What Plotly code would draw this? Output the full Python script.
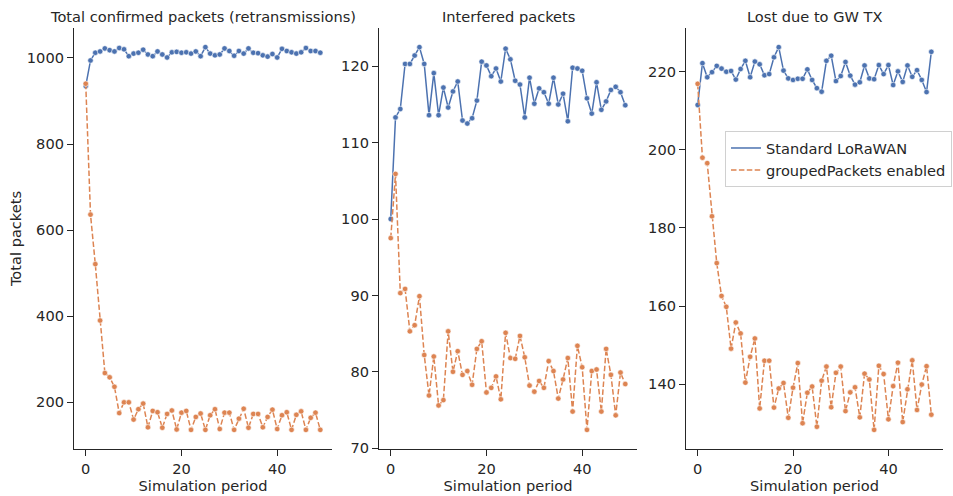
import plotly.graph_objects as go

periods = list(range(50))

total_std = [935, 994, 1012, 1015, 1022, 1018, 1015, 1023, 1020, 1004,
             1010, 1012, 1019, 1008, 1004, 1015, 1008, 1001, 1013, 1014,
             1012, 1013, 1010, 1015, 1004, 1025, 1010, 1006, 1008, 1022,
             1016, 1005, 1016, 1010, 1022, 1012, 1011, 1006, 1003, 1009,
             1001, 1021, 1016, 1013, 1010, 1013, 1023, 1016, 1016, 1012]
total_grp = [940, 636, 521, 390, 268, 258, 236, 175, 200, 200,
             160, 184, 197, 142, 180, 177, 141, 173, 181, 137,
             176, 180, 136, 166, 174, 136, 170, 184, 138, 176,
             176, 136, 162, 185, 141, 173, 173, 142, 166, 183,
             138, 170, 177, 136, 171, 179, 136, 164, 176, 136]

interf_std = [100.0, 113.3, 114.4, 120.3, 120.3, 121.4, 122.5, 120.3, 113.6, 119.1,
              113.6, 117.2, 114.6, 116.7, 118.0, 112.9, 112.5, 113.2, 115.5, 120.6,
              120.1, 118.7, 119.7, 118.0, 122.3, 120.9, 118.1, 117.6, 113.3, 118.5,
              115.1, 117.1, 116.6, 115.1, 118.5, 115.0, 116.4, 112.8, 119.8, 119.7,
              119.4, 115.8, 113.8, 117.9, 114.3, 115.4, 116.9, 117.3, 116.6, 114.9]
interf_grp = [97.5, 105.9, 90.3, 90.85, 85.3, 86.1, 89.9, 82.2, 76.9, 82.0,
              75.6, 76.3, 85.3, 80.0, 82.7, 79.6, 80.1, 78.3, 83.0, 84.0,
              77.3, 77.9, 79.4, 76.4, 85.1, 81.8, 81.7, 84.7, 81.9, 78.2,
              77.4, 78.8, 77.9, 81.4, 80.1, 76.5, 79.0, 81.8, 74.8, 83.4,
              80.6, 72.4, 80.1, 80.3, 74.8, 83.0, 79.6, 74.3, 79.9, 78.4]

lost_std = [211.5, 222.2, 218.6, 219.9, 221.5, 220.8, 220.0, 220.2, 218.0, 220.7,
            222.8, 218.6, 222.6, 221.9, 219.1, 219.4, 223.7, 226.3, 220.3, 218.3,
            217.9, 218.2, 218.2, 220.6, 217.9, 215.8, 214.9, 222.8, 224.1, 217.6,
            218.9, 222.5, 219.0, 216.7, 217.3, 221.6, 218.3, 218.1, 221.7, 219.4,
            221.7, 216.6, 220.1, 217.4, 221.6, 218.7, 220.4, 217.9, 214.8, 225.1]
lost_grp = [216.9, 198.0, 196.6, 183.0, 171.0, 162.6, 159.8, 149.1, 155.8, 153.0,
            140.4, 147.0, 151.7, 133.8, 146.0, 146.0, 134.0, 138.9, 140.3, 131.4,
            139.1, 145.4, 130.0, 137.8, 139.4, 129.1, 140.9, 144.5, 134.1, 142.9,
            144.5, 133.1, 137.9, 139.2, 131.5, 142.7, 141.2, 128.3, 144.7, 142.6,
            131.0, 139.5, 145.5, 130.3, 138.7, 146.1, 133.4, 139.9, 144.6, 132.2]

titles = ["Total confirmed packets (retransmissions)", "Interfered packets", "Lost due to GW TX"]
series_names = ["Standard LoRaWAN", "groupedPackets enabled"]
panels = [(total_std, total_grp), (interf_std, interf_grp), (lost_std, lost_grp)]

BLUE = "#4C72B0"
ORANGE = "#DD8452"
TXT = "#262626"
FONT = "DejaVu Sans"
FS = 14.6
DASH = "5.5px,2.4px"

W, H = 953, 496
ML, MR, MT, MB = 74, 10, 28, 47
pw = W - ML - MR
px_domains = [(74, 332), (379, 637), (686, 943)]
domains = [((a - ML) / pw, (b - ML) / pw) for a, b in px_domains]

fig = go.Figure()

for i, (s_std, s_grp) in enumerate(panels):
    ax = "" if i == 0 else str(i + 1)
    fig.add_trace(go.Scatter(
        x=periods, y=s_std, mode="lines+markers", name=series_names[0],
        showlegend=False,
        line=dict(color=BLUE, width=1.5),
        marker=dict(size=5.5, color=BLUE, line=dict(color="white", width=0.6)),
        xaxis="x" + ax, yaxis="y" + ax))
    fig.add_trace(go.Scatter(
        x=periods, y=s_grp, mode="lines+markers", name=series_names[1],
        showlegend=False,
        line=dict(color=ORANGE, width=1.5, dash=DASH),
        marker=dict(size=5.5, color=ORANGE, line=dict(color="white", width=0.6)),
        xaxis="x" + ax, yaxis="y" + ax))

# legend-only entries (line samples without markers)
fig.add_trace(go.Scatter(x=[None], y=[None], mode="lines", name=series_names[0],
                         line=dict(color=BLUE, width=1.5), xaxis="x3", yaxis="y3"))
fig.add_trace(go.Scatter(x=[None], y=[None], mode="lines", name=series_names[1],
                         line=dict(color=ORANGE, width=1.5, dash=DASH), xaxis="x3", yaxis="y3"))

axis_common = dict(showline=True, linecolor=TXT, linewidth=1.25, ticks="outside",
                   ticklen=6, tickwidth=1.25, tickcolor=TXT, showgrid=False,
                   zeroline=False, tickfont=dict(family=FONT, size=FS, color=TXT))

layout = dict(width=W, height=H,
              margin=dict(l=ML, r=MR, t=MT, b=MB, autoexpand=False),
              plot_bgcolor="white", paper_bgcolor="white",
              font=dict(family=FONT, size=FS, color=TXT))

xr = [min(periods) - 0.05 * (max(periods) - min(periods)),
      max(periods) + 0.05 * (max(periods) - min(periods))]

ytick_sets = [[200, 400, 600, 800, 1000], [70, 80, 90, 100, 110, 120], [140, 160, 180, 200, 220]]

annotations = []
for i, (s_std, s_grp) in enumerate(panels):
    ax = "" if i == 0 else str(i + 1)
    lo = min(min(s_std), min(s_grp))
    hi = max(max(s_std), max(s_grp))
    pad = 0.05 * (hi - lo)
    layout["xaxis" + ax] = dict(axis_common, domain=list(domains[i]), range=xr,
                                anchor="y" + ax, tickvals=[0, 20, 40],
                                title=dict(text="Simulation period", standoff=2,
                                           font=dict(family=FONT, size=FS, color=TXT)))
    yax = dict(axis_common, domain=[0, 1], range=[lo - pad, hi + pad],
               anchor="x" + ax, tickvals=ytick_sets[i])
    if i == 0:
        yax["title"] = dict(text="Total packets", standoff=1,
                            font=dict(family=FONT, size=FS, color=TXT))
    layout["yaxis" + ax] = yax
    annotations.append(dict(text=titles[i], xref="paper", yref="paper",
                            x=(domains[i][0] + domains[i][1]) / 2, y=1,
                            xanchor="center", yanchor="bottom", yshift=1,
                            showarrow=False,
                            font=dict(family=FONT, size=FS, color=TXT)))

layout["annotations"] = annotations
layout["legend"] = dict(x=(725 - ML) / pw, y=(H - MB - 131) / (H - MT - MB),
                        xanchor="left", yanchor="top",
                        bgcolor="rgba(255,255,255,0.8)", bordercolor="#d0d0d0",
                        borderwidth=1, font=dict(family=FONT, size=FS, color=TXT),
                        tracegroupgap=0)

fig.update_layout(**layout)
fig.write_html("out.html")
